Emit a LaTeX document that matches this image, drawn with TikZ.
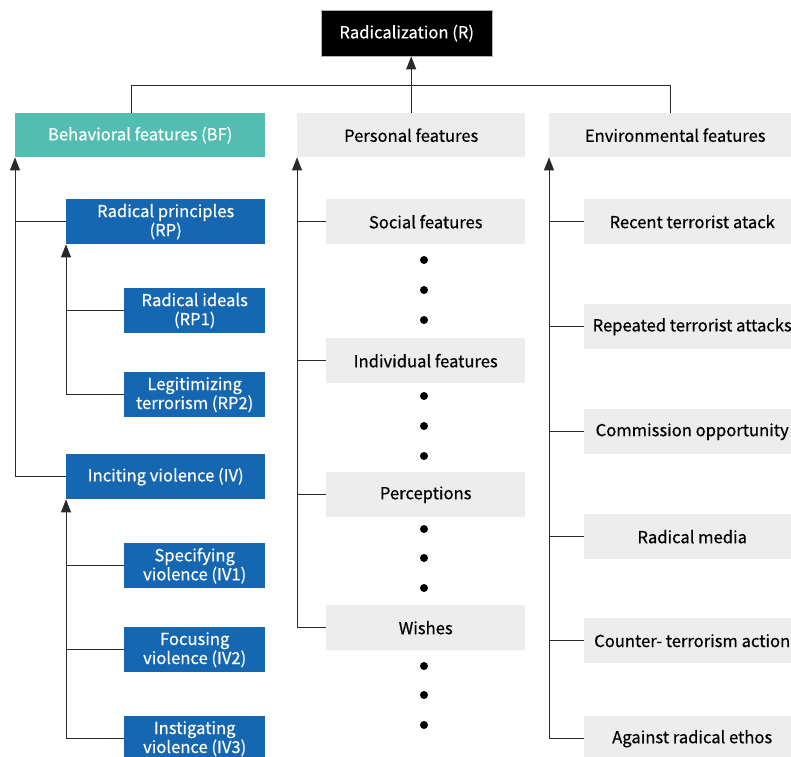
\documentclass[tikz,border=0pt]{standalone}
\usepackage{fontspec}
\setmainfont{Noto Sans CJK SC}[FakeBold=0.45]
\usetikzlibrary{arrows.meta}
\definecolor{teal1}{HTML}{52BDB0}
\definecolor{blue1}{HTML}{1667B2}
\definecolor{gray1}{HTML}{EDEDED}
\definecolor{line1}{HTML}{2A2A2A}
\begin{document}
\begin{tikzpicture}[x=1pt,y=-1pt,
  box/.style={rectangle,anchor=north west,inner sep=0pt,align=center,
    font=\fontsize{16.6}{19}\selectfont},
  greybox/.style={box,fill=gray1,text=black},
  bluebox/.style={box,fill=blue1,text=white},
  conn/.style={draw=line1,line width=0.9pt},
  arr/.style={conn,-{Triangle[length=13pt,width=10pt]}}]
\useasboundingbox (0,0) rectangle (791,756);
\clip (0,0) rectangle (791,756);
\fill[white] (0,0) rectangle (791,756);
% top
\node[box,fill=black,draw=gray!60,text=white,minimum width=171pt,minimum height=46pt] (R) at (321,10) {Radicalization (R)};
\node[box,fill=teal1,text=white,minimum width=250pt,minimum height=44pt] (BF) at (15,113) {Behavioral features (BF)};
\node[greybox,minimum width=228pt,minimum height=44pt] (PF) at (297,113) {Personal features};
\node[greybox,minimum width=242pt,minimum height=44pt] (EF) at (549,113) {\hspace*{10pt}Environmental features};
% behavioral
\node[bluebox,minimum width=199pt,minimum height=45pt] (RP) at (66,199) {Radical principles\\(RP)};
\node[bluebox,minimum width=141pt,minimum height=45pt] (RP1) at (124,288) {Radical ideals\\(RP1)};
\node[bluebox,minimum width=141pt,minimum height=45pt] (RP2) at (124,372) {Legitimizing\\terrorism (RP2)};
\node[bluebox,minimum width=199pt,minimum height=45pt] (IV) at (66,454) {Inciting violence (IV)};
\node[bluebox,minimum width=141pt,minimum height=45pt] (IV1) at (124,543) {Specifying\\violence (IV1)};
\node[bluebox,minimum width=141pt,minimum height=45pt] (IV2) at (124,627) {Focusing\\violence (IV2)};
\node[bluebox,minimum width=141pt,minimum height=45pt] (IV3) at (124,716) {Instigating\\violence (IV3)};
% personal
\node[greybox,minimum width=199pt,minimum height=45pt] (SF) at (326,199) {Social features};
\node[greybox,minimum width=199pt,minimum height=45pt] (IF) at (326,338) {Individual features};
\node[greybox,minimum width=199pt,minimum height=45pt] (PC) at (326,472) {Perceptions};
\node[greybox,minimum width=199pt,minimum height=45pt] (WS) at (326,605) {Wishes};
% environmental
\node[greybox,minimum width=216pt,minimum height=45pt] (E1) at (584,199) {Recent terrorist atack};
\node[greybox,minimum width=216pt,minimum height=45pt] (E2) at (584,304) {Repeated terrorist attacks};
\node[greybox,minimum width=216pt,minimum height=45pt] (E3) at (584,409) {Commission opportunity};
\node[greybox,minimum width=216pt,minimum height=45pt] (E4) at (584,514) {Radical media};
\node[greybox,minimum width=216pt,minimum height=45pt] (E5) at (584,618) {Counter- terrorism action};
\node[greybox,minimum width=216pt,minimum height=45pt] (E6) at (584,716) {Against radical ethos};
% top connectors
\coordinate (bus) at (0,85);
\coordinate (bfup) at ([xshift=-9pt]BF.north);
\draw[conn] (bfup) |- (bus -| EF.north) -- (EF.north);
\draw[arr] (PF.north) -- (PF.north |- R.south);
% behavioral connectors
\draw[arr] (IV.west) -| (BF.south west);
\draw[conn] (RP.west) -- (RP.west -| BF.south west);
\draw[arr] (RP2.west) -| (RP.south west);
\draw[conn] (RP1.west) -- (RP1.west -| RP.south west);
\draw[arr] (IV3.west) -| (IV.south west);
\draw[conn] (IV1.west) -- (IV1.west -| IV.south west);
\draw[conn] (IV2.west) -- (IV2.west -| IV.south west);
% personal connectors
\draw[arr] (WS.west) -| (PF.south west);
\foreach \n in {SF,IF,PC}{\draw[conn] (\n.west) -- (\n.west -| PF.south west);}
% environmental connectors
\draw[arr] (E6.west) -| (EF.south west);
\foreach \n in {E1,E2,E3,E4,E5}{\draw[conn] (\n.west) -- (\n.west -| EF.south west);}
% dots
\foreach \y in {260,290,320,396,426,456,529,558,588,666,695,725}{\fill (424,\y) circle (4pt);}
\end{tikzpicture}
\end{document}
